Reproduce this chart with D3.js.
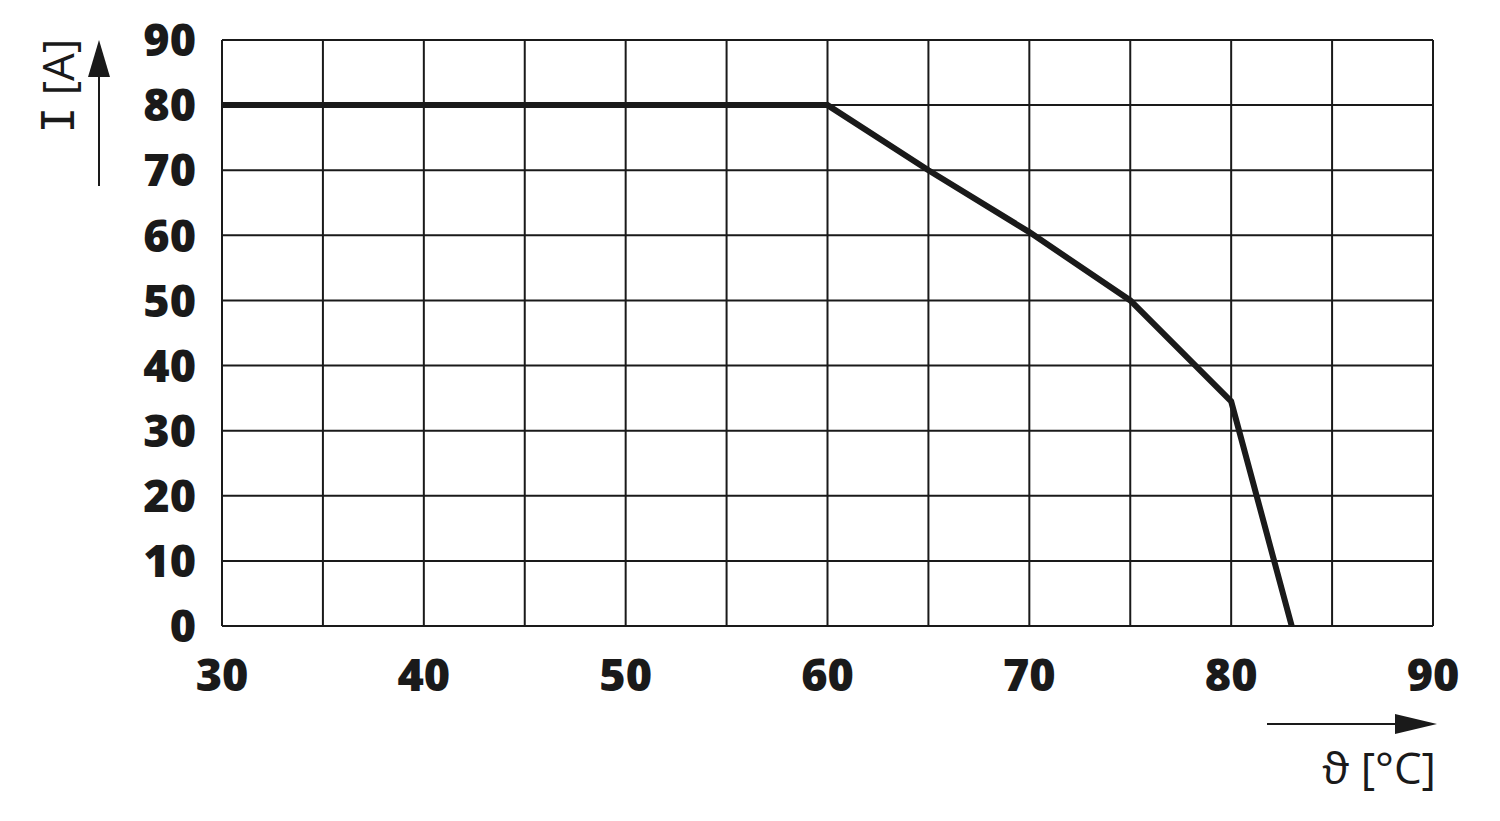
<!DOCTYPE html>
<html><head><meta charset="utf-8">
<script src="https://cdn.jsdelivr.net/npm/d3@7"></script>
<style>body{margin:0;background:#fff}</style>
</head><body>
<svg id="c" width="1500" height="821"></svg>
<script>
const temps = [30, 60, 65, 70, 75, 80, 83];
const currents = [80, 80, 70, 60.5, 50, 34.5, 0];
const xTicks = [30, 40, 50, 60, 70, 80, 90];
const yTicks = [0, 10, 20, 30, 40, 50, 60, 70, 80, 90];
const xGrid = d3.range(30, 91, 5);
const xTitle = "ϑ [°C]";
const yTitleSym = "I";
const yTitleUnit = " [A]";

const svg = d3.select("#c");
const x = d3.scaleLinear().domain([30, 90]).range([222, 1433]);
const y = d3.scaleLinear().domain([0, 90]).range([626, 40]);
const ink = "#1a1a1a";
const font = "'Open Sans', 'Liberation Sans', sans-serif";

const g = svg.append("g");
g.selectAll(".vg").data(xGrid).join("line")
  .attr("x1", d => x(d)).attr("x2", d => x(d)).attr("y1", y(0)).attr("y2", y(90))
  .attr("stroke", ink).attr("stroke-width", 2);
g.selectAll(".hg").data(yTicks).join("line")
  .attr("x1", x(30)).attr("x2", x(90)).attr("y1", d => y(d)).attr("y2", d => y(d))
  .attr("stroke", ink).attr("stroke-width", 2);

g.selectAll(".yl").data(yTicks).join("text")
  .attr("x", 196).attr("y", d => y(d)).attr("dy", "0.36em")
  .attr("text-anchor", "end").attr("font-family", font).attr("font-weight", 800)
  .attr("font-size", 45).attr("fill", ink).text(d => d);
g.selectAll(".xl").data(xTicks).join("text")
  .attr("x", d => x(d)).attr("y", 691)
  .attr("text-anchor", "middle").attr("font-family", font).attr("font-weight", 800)
  .attr("font-size", 45).attr("fill", ink).text(d => d);

const line = d3.line().x((d, i) => x(temps[i])).y(d => y(d));
svg.append("path").datum(currents).attr("d", line)
  .attr("fill", "none").attr("stroke", ink).attr("stroke-width", 6)
  .attr("stroke-linejoin", "miter");

// Y arrow
svg.append("line").attr("x1", 99).attr("x2", 99).attr("y1", 186).attr("y2", 70)
  .attr("stroke", ink).attr("stroke-width", 2);
svg.append("path").attr("d", "M99,40 L88,77 L110,77 Z").attr("fill", ink);
const yt = svg.append("text").attr("transform", "translate(74,86) rotate(-90)")
  .attr("text-anchor", "middle").attr("font-family", font).attr("font-size", 44)
  .attr("fill", ink);
yt.append("tspan").attr("font-family", "'DejaVu Sans Mono', 'Liberation Mono', monospace").text(yTitleSym);
yt.append("tspan").text(yTitleUnit);

// X arrow
svg.append("line").attr("x1", 1267).attr("x2", 1405).attr("y1", 724).attr("y2", 724)
  .attr("stroke", ink).attr("stroke-width", 2);
svg.append("path").attr("d", "M1437,724 L1395,714 L1395,734 Z").attr("fill", ink);
svg.append("text").attr("x", 1436).attr("y", 784).attr("text-anchor", "end")
  .attr("font-family", font).attr("font-size", 44).attr("fill", ink).text(xTitle);
</script>
</body></html>
